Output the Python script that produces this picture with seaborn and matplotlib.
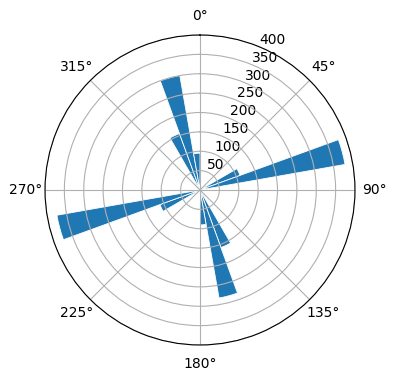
import numpy as np
import matplotlib
matplotlib.use("Agg")
import matplotlib.pyplot as plt
import seaborn as sns

# bin start angles (degrees) and counts
bin_start_deg = list(range(0, 360, 10))
counts = [5, 0, 0, 3, 8, 20, 110, 380, 15,
          5, 0, 5, 8, 10, 20, 158, 283, 90,
          10, 0, 0, 0, 5, 20, 110, 375, 15,
          5, 0, 0, 0, 5, 20, 155, 300, 95]
r_ticks = [50, 100, 150, 200, 250, 300, 350, 400]

color = sns.color_palette("tab10")[0]

fig = plt.figure(figsize=(3.96, 3.80), dpi=100)
ax = fig.add_axes([45/396, 35/380, 310/396, 310/380], projection="polar")
ax.set_theta_zero_location("N")
ax.set_theta_direction(-1)

theta = np.deg2rad(np.array(bin_start_deg) + 5)
ax.bar(theta, counts, width=np.deg2rad(10), bottom=0.0, color=color,
       edgecolor="white", linewidth=0.6)
ax.set_ylim(0, 400)
ax.set_yticks(r_ticks)
ax.set_rlabel_position(22.5)

fig.savefig("out.png", dpi=100)
